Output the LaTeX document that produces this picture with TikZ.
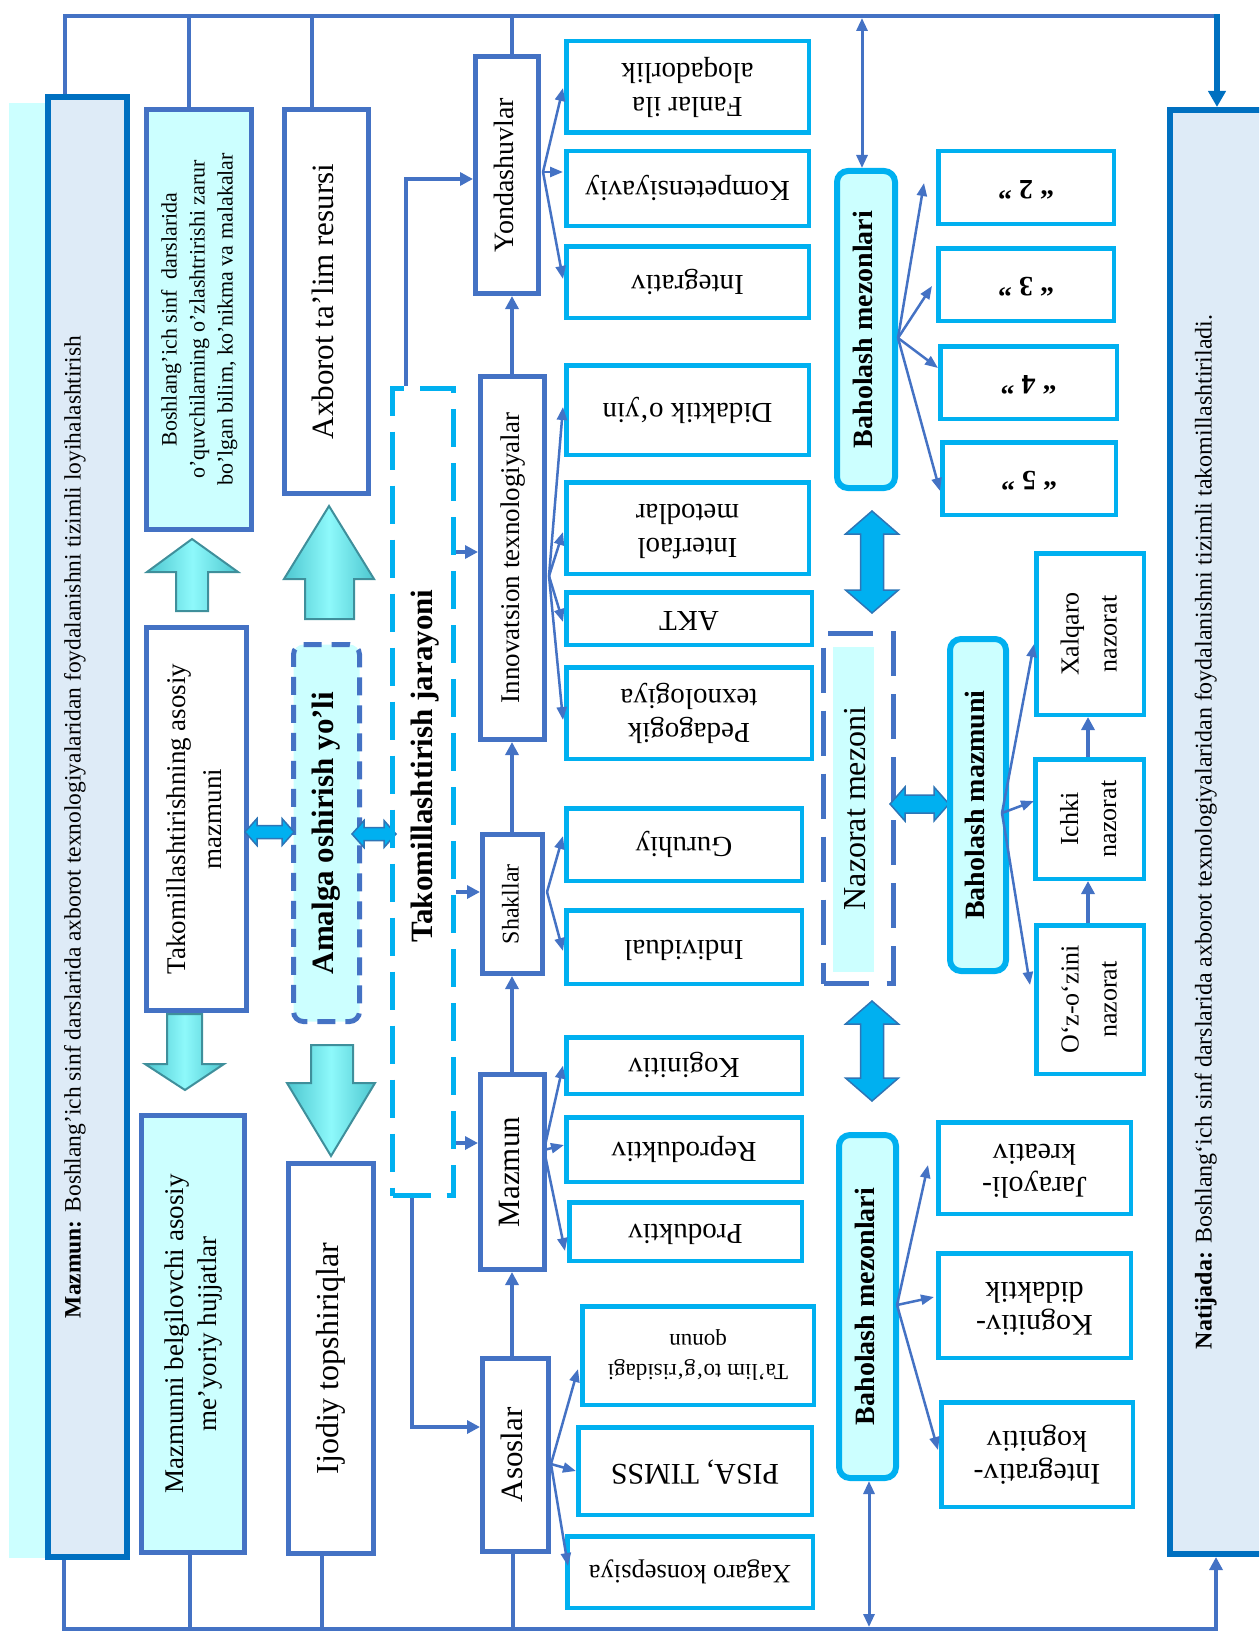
\documentclass[tikz,border=0pt]{standalone}
\usepackage{graphicx}
\usepackage{fontspec}
\setmainfont{Liberation Serif}
\usetikzlibrary{arrows.meta,calc}
\definecolor{lb}{HTML}{4472C4}
\definecolor{db}{HTML}{0070C0}
\definecolor{cy}{HTML}{00B0F0}
\definecolor{pc}{HTML}{CCFFFF}
\definecolor{gb}{HTML}{DEEBF7}
\definecolor{tl}{HTML}{72E8EF}
\definecolor{tle}{HTML}{4CC6CF}
\definecolor{tlm}{HTML}{8EF9FB}
\definecolor{tld}{HTML}{3F8F9B}
\definecolor{ab}{HTML}{2E75B6}
\newcommand\rt[4]{\rotatebox{#1}{\fontsize{#2}{#3}\selectfont\begin{tabular}{@{}c@{}}#4\end{tabular}}}
\begin{document}
\begin{tikzpicture}[x=1pt,y=-1pt,
 mb/.style={draw=lb,line width=5pt,fill=white,inner sep=0pt},
 cb/.style={draw=cy,line width=4.5pt,fill=white,inner sep=0pt},
 rb/.style={draw=cy,line width=6pt,fill=pc,rounded corners=11pt,inner sep=0pt},
 conn/.style={draw=lb,line width=4pt},
 carr/.style={conn,-{Triangle[length=13pt,width=13pt]}},
 fan/.style={draw=lb,line width=2.5pt,-{Triangle[length=13pt,width=10pt]}},
 dbl/.style={draw=lb,line width=3pt,{Triangle[length=13pt,width=11pt]}-{Triangle[length=13pt,width=11pt]}},
 bigup/.style={left color=tle,right color=tle,middle color=tlm,draw=tld,line width=2pt},
 bluearr/.style={fill=cy,draw=ab,line width=1.5pt},
 txt/.style={inner sep=0pt}]
\useasboundingbox (0,0) rectangle (1259,1632);
\clip (0,0) rectangle (1259,1632);

% ---------- left column ----------
\fill[pc] (9,103) rectangle (62,1558);
\node[mb,draw=db,line width=6pt,fill=gb,minimum width=79pt,minimum height=1460pt] (mazbig) at (87.5,827) {};
\node[txt] (maztxt) at (75,827) {\rt{90}{23.5}{28}{\textbf{Mazmun:} Boshlang’ich sinf darslarida axborot texnologiyalaridan foydalanishni tizimli loyihalashtirish}};

\node[mb,fill=pc,minimum width=105pt,minimum height=420pt] (bosh) at (199,319.5) {\rt{90}{22}{28}{Boshlang’ich sinf\ \ darslarida\\ o’quvchilarning o’zlashtririshi zarur\\ bo’lgan bilim, ko’nikma va malakalar}};
\node[mb,minimum width=84pt,minimum height=384pt] (axb) at (326.5,301.5) {\rt{90}{31}{36}{Axborot ta’lim resursi}};
\node[mb,minimum width=100pt,minimum height=383pt] (takom) at (196.5,819) {\rt{90}{27}{36}{Takomillashtirishning asosiy\\ mazmuni}};
\node[mb,fill=pc,dash pattern=on 18pt off 10pt,rounded corners=10pt,minimum width=66pt,minimum height=377pt] (amalga) at (326.5,833) {\rt{90}{31}{36}{\textbf{Amalga oshirish yo’li}}};
\node[mb,fill=pc,minimum width=103pt,minimum height=437pt] (mazmunni) at (193,1334) {\rt{90}{27}{33}{Mazmunni belgilovchi asosiy\\ me’yoriy hujjatlar}};
\node[mb,minimum width=85pt,minimum height=390pt] (ijodiy) at (331,1358.5) {\rt{90}{32}{36}{Ijodiy topshiriqlar}};

% big teal arrows
\shadedraw[bigup] (192,539) -- (238,572) -- (208,572) -- (208,611) -- (176,611) -- (176,572) -- (147,572) -- cycle;
\shadedraw[bigup] (329,506) -- (374,579) -- (354,579) -- (354,619) -- (305,619) -- (305,579) -- (284,579) -- cycle;
\shadedraw[bigup] (167,1014) -- (202,1014) -- (202,1064) -- (224,1064) -- (185,1090) -- (145,1064) -- (167,1064) -- cycle;
\shadedraw[bigup] (311,1045) -- (353,1045) -- (353,1083) -- (375,1083) -- (331,1156) -- (287,1083) -- (311,1083) -- cycle;

% small double arrows
\filldraw[bluearr] (245,832) -- (257,818.5) -- (257,825.5) -- (282,825.5) -- (282,818.5) -- (294,832) -- (282,845.5) -- (282,838.5) -- (257,838.5) -- (257,845.5) -- cycle;
\filldraw[bluearr] (352,834) -- (364,820.5) -- (364,827.5) -- (384,827.5) -- (384,820.5) -- (396,834) -- (384,847.5) -- (384,840.5) -- (364,840.5) -- (364,847.5) -- cycle;

% ---------- jarayoni ----------
\node[draw=cy,line width=5pt,dash pattern=on 38pt off 16pt,minimum width=61pt,minimum height=807pt,inner sep=0pt] (jar) at (423,792) {};
\node[txt] (jartxt) at (425,766) {\rt{90}{31}{36}{\textbf{Takomillashtirish jarayoni}}};

% ---------- middle column ----------
\node[mb,minimum width=63pt,minimum height=237pt] (yond) at (507,175) {\rt{90}{28}{34}{Yondashuvlar}};
\node[mb,minimum width=64pt,minimum height=363pt] (innov) at (512.5,558) {\rt{90}{27}{34}{Innovatsion texnologiyalar}};
\node[mb,minimum width=60pt,minimum height=139pt] (shakl) at (512.5,904) {\rt{90}{24}{30}{Shakllar}};
\node[mb,minimum width=64pt,minimum height=195pt] (mazm) at (512.5,1172) {\rt{90}{31}{36}{Mazmun}};
\node[mb,minimum width=66pt,minimum height=193pt] (asos) at (515.5,1455) {\rt{90}{31}{36}{Asoslar}};

% ---------- items ----------
\node[cb,minimum width=242.5pt,minimum height=91.5pt] (fanlar) at (687.5,87) {\rt{180}{29}{34}{Fanlar ila\\ aloqadorlik}};
\node[cb,minimum width=242.5pt,minimum height=74.5pt] (kompet) at (687.5,188.5) {\rt{180}{29}{34}{Kompetensiyaviy}};
\node[cb,minimum width=242.5pt,minimum height=71.5pt] (integ) at (687.5,282) {\rt{180}{29}{34}{Integrativ}};
\node[cb,minimum width=242.5pt,minimum height=89.5pt] (didak) at (687.5,410) {\rt{180}{29}{34}{Didaktik o‘yin}};
\node[cb,minimum width=242.5pt,minimum height=91.5pt] (interf) at (687.5,528) {\rt{180}{29}{34}{Interfaol\\ metodlar}};
\node[cb,minimum width=245.5pt,minimum height=52.5pt] (akt) at (689,618.5) {\rt{180}{29}{34}{AKT}};
\node[cb,minimum width=245.5pt,minimum height=91.5pt] (pedag) at (689,713) {\rt{180}{29}{34}{Pedagogik\\ texnologiya}};
\node[cb,minimum width=235.5pt,minimum height=72.5pt] (guruh) at (684,844.5) {\rt{180}{29}{34}{Guruhiy}};
\node[cb,minimum width=235.5pt,minimum height=73.5pt] (indiv) at (684,947) {\rt{180}{29}{34}{Individual}};
\node[cb,minimum width=235.5pt,minimum height=56.5pt] (kogn) at (684,1065.5) {\rt{180}{29}{34}{Koginitiv}};
\node[cb,minimum width=235.5pt,minimum height=64.5pt] (reprod) at (684,1149.5) {\rt{180}{29}{34}{Reproduktiv}};
\node[cb,minimum width=232.5pt,minimum height=58.5pt] (produk) at (685.5,1231.5) {\rt{180}{29}{34}{Produktiv}};
\node[cb,minimum width=231.5pt,minimum height=98.5pt] (talim) at (698,1355.5) {\rt{180}{23}{30}{Ta’lim to‘g‘risidagi\\ qonun}};
\node[cb,minimum width=233.5pt,minimum height=87.5pt] (pisa) at (695,1471) {\rt{180}{30}{34}{PISA, TIMSS}};
\node[cb,minimum width=245.5pt,minimum height=71.5pt] (xagaro) at (690,1572) {\rt{180}{26.5}{32}{Xagaro konsepsiya}};

% ---------- right middle ----------
\node[rb,minimum width=58pt,minimum height=317pt] (bm1) at (866,329.5) {\rt{90}{28}{34}{\textbf{Baholash mezonlari}}};
\node[cb,minimum width=175.5pt,minimum height=72.5pt] (g2) at (1026,187.5) {\rt{180}{28}{34}{\textbf{“ 2 ”}}};
\node[cb,minimum width=175.5pt,minimum height=72.5pt] (g3) at (1026,284.5) {\rt{180}{28}{34}{\textbf{“ 3 ”}}};
\node[cb,minimum width=176.5pt,minimum height=72.5pt] (g4) at (1028.5,382.5) {\rt{180}{28}{34}{\textbf{“ 4 ”}}};
\node[cb,minimum width=173.5pt,minimum height=72.5pt] (g5) at (1029,478.5) {\rt{180}{28}{34}{\textbf{“ 5 ”}}};

\filldraw[bluearr] (872,511) -- (898.5,534) -- (883.5,534) -- (883.5,590) -- (898.5,590) -- (872,613) -- (845.5,590) -- (860.5,590) -- (860.5,534) -- (845.5,534) -- cycle;
\filldraw[bluearr] (872,1001) -- (898.5,1024) -- (883.5,1024) -- (883.5,1078) -- (898.5,1078) -- (872,1101) -- (845.5,1078) -- (860.5,1078) -- (860.5,1024) -- (845.5,1024) -- cycle;

\fill[pc] (833,647) rectangle (874,972);
\node[draw=lb,line width=5pt,dash pattern=on 45pt off 18pt,minimum width=70pt,minimum height=350pt,inner sep=0pt] (nazmez) at (858.5,808.5) {\rt{90}{32}{36}{Nazorat mezoni}};
\filldraw[bluearr] (890,804) -- (905,787) -- (905,795) -- (934,795) -- (934,787) -- (949,804) -- (934,821) -- (934,813) -- (905,813) -- (905,821) -- cycle;
\node[rb,minimum width=56pt,minimum height=332pt] (bmaz) at (978,805) {\rt{90}{28}{34}{\textbf{Baholash mazmuni}}};
\node[cb,minimum width=107.5pt,minimum height=161.5pt] (xalq) at (1090,634) {\rt{90}{26}{38}{Xalqaro\\ nazorat}};
\node[cb,minimum width=108.5pt,minimum height=119.5pt] (ichki) at (1089.5,819) {\rt{90}{26}{38}{Ichki\\ nazorat}};
\node[cb,minimum width=107.5pt,minimum height=148.5pt] (ozo) at (1090,999.5) {\rt{90}{26}{38}{O‘z-o‘zini\\ nazorat}};

\node[rb,minimum width=57pt,minimum height=343pt] (bm2) at (867.5,1306.5) {\rt{90}{28}{34}{\textbf{Baholash mezonlari}}};
\node[cb,minimum width=192.5pt,minimum height=91.5pt] (jarkr) at (1034.5,1168) {\rt{180}{30}{33}{Jarayoli-\\ kreativ}};
\node[cb,minimum width=192.5pt,minimum height=104.5pt] (kogdid) at (1034.5,1305.5) {\rt{180}{30}{33}{Kognitiv-\\ didaktik}};
\node[cb,minimum width=191.5pt,minimum height=104.5pt] (intkog) at (1037,1454.5) {\rt{180}{30}{33}{Integrativ-\\ kognitiv}};

% ---------- natijada ----------
\node[mb,draw=db,line width=6pt,fill=gb,minimum width=107pt,minimum height=1444pt] (natij) at (1223.5,832) {};
\node[txt] (nattxt) at (1206,832) {\rt{90}{24}{28}{\textbf{Natijada:} Boshlang‘ich sinf darslarida axborot texnologiyalaridan foydalanishni tizimli takomillashtiriladi.}};

% ---------- frame connectors ----------
\coordinate (T1) at (65,16); \coordinate (T2) at (189,16); \coordinate (T3) at (312,16);
\coordinate (T4) at (512,16); \coordinate (TB) at (862,18); \coordinate (TR) at (1217,16);
\coordinate (B1) at (64,1629); \coordinate (B2) at (190,1629); \coordinate (B3) at (322,1629);
\coordinate (B4) at (513,1629); \coordinate (BB) at (869,1627); \coordinate (BR) at (1216,1629);
\draw[conn] (mazbig.north -| T1) -- (T1) -- (TR);
\draw[conn] (T2) -- (bosh.north -| T2);
\draw[conn] (T3) -- (axb.north -| T3);
\draw[conn] (T4) -- (yond.north -| T4);
\draw[db,line width=6pt,-{Triangle[length=16pt,width=17pt]}] ($(TR)+(0,-2)$) -- (natij.north -| TR);
\draw[dbl] (TB) -- (bm1.north -| TB);
\draw[carr] (mazbig.south -| B1) -- (B1) -- (BR) -- (natij.south -| BR);
\draw[conn] (B2) -- (mazmunni.south -| B2);
\draw[conn] (B3) -- (ijodiy.south -| B3);
\draw[conn] (B4) -- (asos.south -| B4);
\draw[dbl] (BB) -- (bm2.south -| BB);

% ---------- jarayoni connectors ----------
\coordinate (J1) at (406,179); \coordinate (J2) at (412,1427);
\coordinate (J3) at (0,552); \coordinate (J4) at (0,892); \coordinate (J5) at (0,1143);
\draw[carr] (jar.north -| J1) -- (J1) -- (J1 -| yond.west);
\draw[carr] (jar.south -| J2) -- (J2) -- (J2 -| asos.west);
\draw[carr] (jar.east |- J3) -- (innov.west |- J3);
\draw[carr] (jar.east |- J4) -- (shakl.west |- J4);
\draw[carr] (jar.east |- J5) -- (mazm.west |- J5);

% ---------- middle verticals ----------
\coordinate (VX) at (512,0);
\draw[carr,line width=3.5pt] (asos.north -| VX) -- (mazm.south -| VX);
\draw[carr,line width=3.5pt] (mazm.north -| VX) -- (shakl.south -| VX);
\draw[carr,line width=3.5pt] (shakl.north -| VX) -- (innov.south -| VX);
\draw[carr,line width=3.5pt] (innov.north -| VX) -- (yond.south -| VX);
\coordinate (NX) at (1088,0);
\draw[carr,line width=3.5pt] (ozo.north -| NX) -- (ichki.south -| NX);
\draw[carr,line width=3.5pt] (ichki.north -| NX) -- (xalq.south -| NX);

% ---------- fans ----------
\coordinate (ys) at ($(yond.east)+(2,-3)$);
\draw[fan] (ys) -- ($(fanlar.west)+(-1,1)$);
\draw[fan] (ys) -- ($(kompet.west)+(-1,-16.5)$);
\draw[fan] (ys) -- ($(integ.west)+(-1,-3)$);
\coordinate (is) at ($(innov.east)+(2,18)$);
\draw[fan] (is) -- ($(didak.west)+(-1,-3)$);
\draw[fan] (is) -- ($(interf.west)+(-1,4)$);
\draw[fan] (is) -- ($(akt.west)+(-1,3.5)$);
\draw[fan] (is) -- ($(pedag.west)+(-1,7)$);
\coordinate (ss) at ($(shakl.east)+(2,-12)$);
\draw[fan] (ss) -- ($(guruh.west)+(-1,-8.5)$);
\draw[fan] (ss) -- ($(indiv.west)+(-1,4)$);
\coordinate (ms) at ($(mazm.east)+(-3,-22)$);
\draw[fan] (ms) -- ($(kogn.west)+(-1,0)$);
\draw[fan] (ms) -- ($(reprod.west)+(0,-4.5)$);
\draw[fan] (ms) -- ($(produk.west)+(-2,19.5)$);
\coordinate (as) at ($(asos.east)+(0,9)$);
\draw[fan] (as) -- ($(talim.west)+(-2,13.5)$);
\draw[fan] (as) -- (pisa.west);
\draw[fan] (as) -- ($(xagaro.west)+(3,-6)$);
\coordinate (b1s) at ($(bm1.east)+(0,8.5)$);
\draw[fan] (b1s) -- ($(g2.west)+(-12,-4.5)$);
\draw[fan] (b1s) -- ($(g3.west)+(-4,1.5)$);
\draw[fan] (b1s) -- ($(g4.west)+(0,-14.5)$);
\draw[fan] (b1s) -- ($(g5.west)+(0,12.5)$);
\coordinate (bzs) at ($(bmaz.east)+(-7,8)$);
\draw[fan] (bzs) -- ($(xalq.west)+(0,10)$);
\draw[fan] (bzs) -- ($(ichki.west)+(1,-18)$);
\draw[fan] (bzs) -- ($(ozo.west)+(-4,-14.5)$);
\coordinate (b2s) at ($(bm2.east)+(-2,-1.5)$);
\draw[fan] (b2s) -- ($(jarkr.west)+(-8,-3)$);
\draw[fan] (b2s) -- ($(kogdid.west)+(-2,-8.5)$);
\draw[fan] (b2s) -- ($(intkog.west)+(-1,-4.5)$);
\end{tikzpicture}
\end{document}
